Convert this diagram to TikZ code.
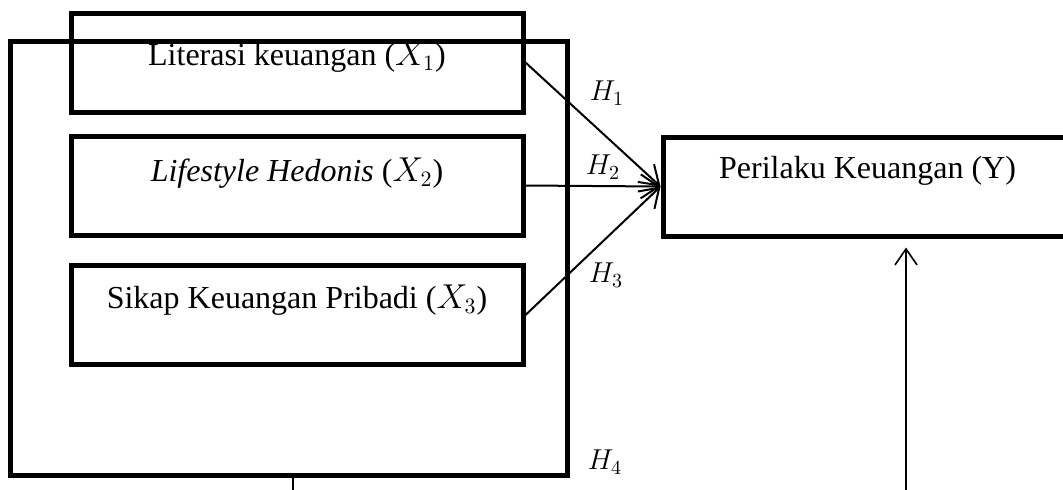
\documentclass[tikz,border=0pt]{standalone}
\usepackage{fontspec}
\setmainfont{Liberation Serif}
\usetikzlibrary{arrows.meta, positioning}

\begin{document}
\begin{tikzpicture}[x=0.5pt, y=-0.5pt,
    frame/.style={rectangle, draw, line width=2.5pt},
    var/.style={rectangle, draw, line width=2.5pt, minimum width=226pt, minimum height=49.5pt, text height=11pt, font=\fontsize{16}{19}\selectfont},
    hyp/.style={font=\fontsize{14}{16}\selectfont},
    arrow/.style={-{Straight Barb[length=9pt,width=12pt]}, line width=1pt},
    line/.style={line width=0.8pt}
]
\useasboundingbox (0,0) rectangle (1063,489);

\node[frame, minimum width=278.5pt, minimum height=217pt] (outer) at (288.5,258) {};

\node[var, text depth=8.5pt] (lit) at (297,62.5) {Literasi keuangan ($X_1$)};
\node[var, text depth=15pt] (life) at (297,185.5) {\textit{Lifestyle Hedonis} ($X_2$)};
\node[var, text depth=18pt] (sikap) at (297,315) {Sikap Keuangan Pribadi ($X_3$)};
\node[var, minimum width=204.5pt, text depth=19.5pt] (perilaku) at (867.5,186.5) {Perilaku Keuangan (Y)};

\draw[arrow] (lit.east) -- (perilaku.west);
\draw[arrow] (life.east) -- (perilaku.west);
\draw[arrow] (sikap.east) -- (perilaku.west);

\node[hyp] (h1) at (607,93) {$H_1$};
\node[hyp] (h2) at (603,167) {$H_2$};
\node[hyp] (h3) at (606,275) {$H_3$};
\node[hyp] (h4) at (605,462) {$H_4$};

\coordinate (base) at (906,495);
\coordinate (foot) at (293,495);
\draw[line, -{Straight Barb[length=8pt,width=11pt]}, shorten >=4.5pt] (base) -- (base |- perilaku.south);
\draw[line] (outer.south -| foot) -- (foot);

\end{tikzpicture}
\end{document}
